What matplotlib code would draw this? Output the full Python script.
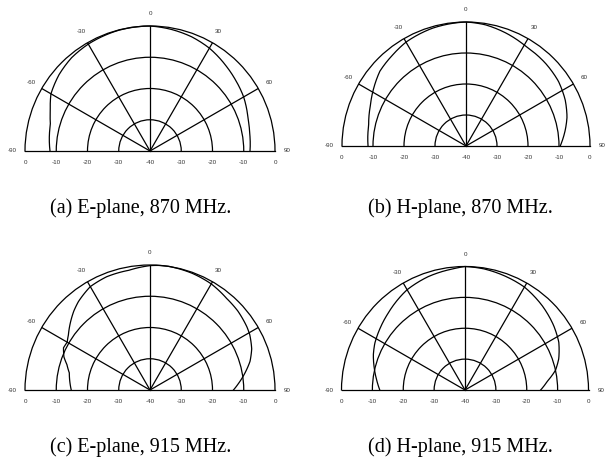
import matplotlib
matplotlib.use('Agg')
import matplotlib.pyplot as plt, numpy as np

plt.rcParams['font.family'] = ['Liberation Sans', 'DejaVu Sans']

# measured patterns, angle [deg] from boresight, normalised gain [dB]
e870_ang = [-90, -75, -68, -60, -50, -40, -30, -15, 0, 10, 20, 30, 42, 50, 60, 72, 80, 90]
e870_db = [-8.0, -7.0, -5.6, -3.4, -2.0, -1.0, -0.5, -0.1, 0.0, -0.5, -1.1, -2.0, -3.5, -4.4, -5.4, -7.0, -7.6, -8.0]

h870_ang = [-90, -78, -67, -57, -49, -39, -30, -16, 0, 9, 20, 31, 44, 55, 65, 74, 81, 90]
h870_db = [-8.4, -7.9, -6.5, -4.7, -3.2, -2.3, -1.3, -0.5, 0.0, -0.4, -1.4, -2.5, -3.0, -3.6, -4.7, -6.1, -7.6, -9.6]

e915_ang = [-90, -87, -78, -73, -69, -64, -60, -56, -50, -44, -39, -30, -21, -10, 0, 5, 9, 20, 30, 40, 48, 57, 61, 68, 74, 80, 86, 90]
e915_db = [-14.8, -14.5, -13.6, -12.2, -10.5, -9.2, -9.4, -8.5, -6.7, -4.9, -3.6, -1.8, -1.2, -1.1, -0.2, 0.0, 0.0, -0.3,
           -0.8, -1.8, -2.2, -3.0, -3.5, -4.9, -6.7, -9.2, -11.7, -13.3]

h915_ang = [-90, -83.5, -76.6, -69, -62.6, -54, -45, -30, -18, -6, 0, 9, 30, 42.7, 54, 63, 71.6, 77.7, 84, 90]
h915_db = [-12.4, -11.2, -9.8, -8.2, -7.1, -6.0, -4.8, -2.5, -1.4, -0.6, 0.0, -0.3, -1.5, -3.0, -4.5, -5.9, -8.0, -10.0,
           -13.2, -15.5]

captions = ['(a) E-plane, 870 MHz.', '(b) H-plane, 870 MHz.', '(c) E-plane, 915 MHz.', '(d) H-plane, 915 MHz.']
spokes = [-60, -30, 0, 30, 60]
ang_labels = [-90, -60, -30, 0, 30, 60, 90]
rings = [-30, -20, -10]
r_labels = [0, -10, -20, -30]

W, H = 605.0, 458.0
fig = plt.figure(figsize=(W / 100, H / 100), dpi=100)


def add_pattern(cx, cy, R, ang, db, caption, cap_x, cap_y):
	#the half wedge sits in the middle band of a square axes box
	ax = fig.add_axes([(cx - R) / W, (H - cy - 0.5 * R) / H, 2 * R / W, 2 * R / H], projection='polar')
	ax.set_theta_zero_location('N')
	ax.set_theta_direction(-1)
	ax.set_thetamin(-90)
	ax.set_thetamax(90)
	ax.set_rlim(-40, 0)
	ax.set_thetagrids(spokes)
	ax.set_rgrids(rings)
	ax.set_xticklabels([])
	ax.set_yticklabels([])
	ax.grid(True, color='k', linewidth=0.9, linestyle='-')
	for s in ax.spines.values():
		s.set_color('k')
		s.set_linewidth(0.9)

	line, = ax.plot(np.deg2rad(ang), db, color='k', lw=0.9, clip_on=False)
	line.get_path()._interpolation_steps = 40  # draw segments along (theta, r), not as chords

	#angle labels just outside the outer ring
	for a in ang_labels:
		ax.text(np.deg2rad(a), 4.0, str(a), ha='center', va='center', fontsize=4.5, color='#333333')

	#dB labels under the baseline
	for v in r_labels:
		for t in (-90, 90):
			ax.annotate(str(v), xy=(np.deg2rad(t), v), xytext=(0, -8), textcoords='offset points',
						ha='center', va='center', fontsize=4.5, color='#333333', annotation_clip=False)
	ax.annotate('-40', xy=(0, -40), xytext=(0, -8), textcoords='offset points',
				ha='center', va='center', fontsize=4.5, color='#333333', annotation_clip=False)

	fig.text(cap_x / W, 1 - cap_y / H, caption, family='Liberation Serif', fontsize=14.5, ha='center', va='center')
	return ax


add_pattern(150, 151, 125, e870_ang, e870_db, captions[0], 141, 208)
add_pattern(466, 146, 124, h870_ang, h870_db, captions[1], 460, 208)
add_pattern(150, 390, 125, e915_ang, e915_db, captions[2], 141, 447)
add_pattern(465, 390, 123.5, h915_ang, h915_db, captions[3], 460, 447)

fig.savefig('out.png', dpi=100)
